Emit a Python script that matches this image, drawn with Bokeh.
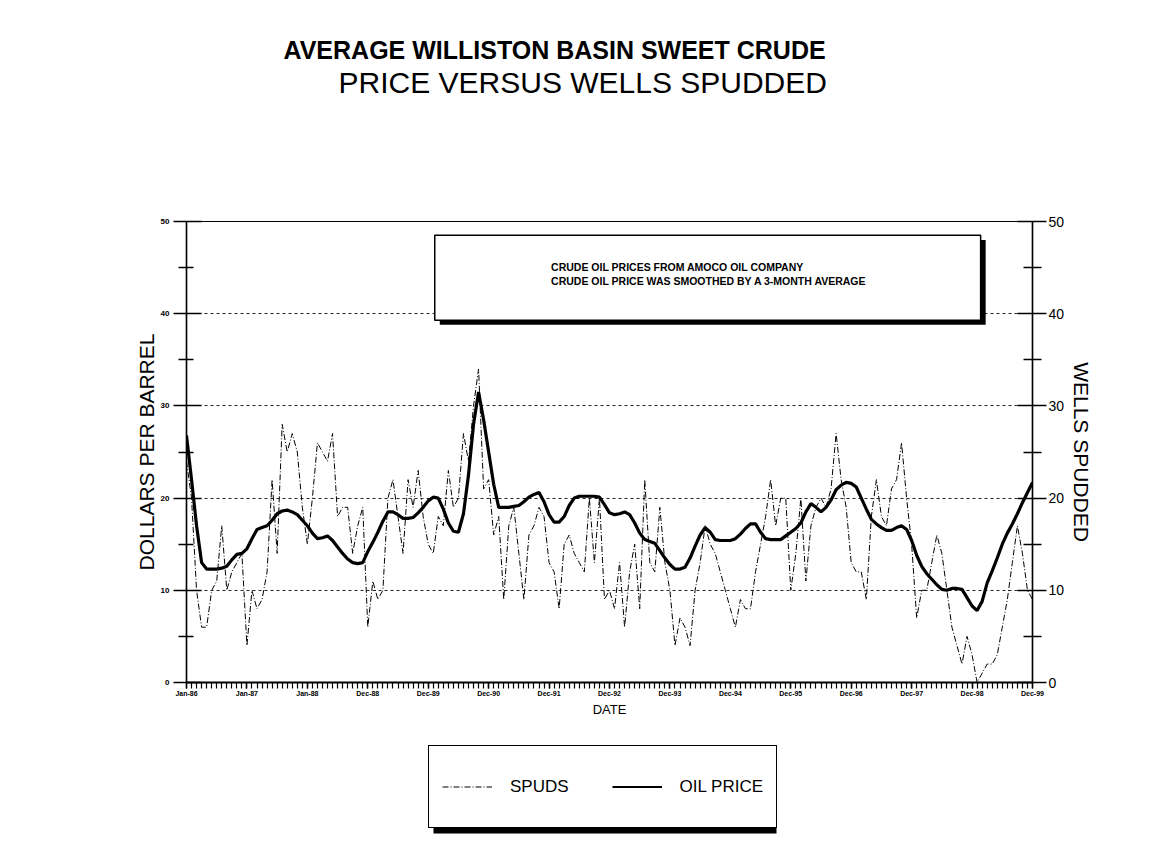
from bokeh.plotting import figure
from bokeh.layouts import column
from bokeh.models import (Range1d, LinearAxis, FixedTicker, BoxAnnotation, Label,
                          Title, Legend, LegendItem)
from bokeh.embed import file_html
from bokeh.resources import INLINE

# ---------------- data ----------------
months = list(range(169))  # Jan-86 ... Dec-99, monthly index
tick_positions = [0, 12, 24, 36, 48, 60, 72, 84, 96, 108, 120, 132, 144, 156, 168]
tick_labels = ["Jan-86", "Jan-87", "Jan-88", "Dec-88", "Dec-89", "Dec-90", "Dec-91",
               "Dec-92", "Dec-93", "Dec-94", "Dec-95", "Dec-96", "Dec-97", "Dec-98", "Dec-99"]

spuds = [24, 20, 10, 6, 6, 10, 11, 17, 10, 12, 13, 14, 4, 10, 8, 9, 12, 22, 14, 28,
         25, 27, 25, 19, 15, 20, 26, 25, 24, 27, 18, 19, 19, 14, 17, 19, 6, 11, 9, 10,
         20, 22, 18, 14, 22, 19, 23, 18, 15, 14, 18, 17, 23, 19, 20, 27, 24, 30, 34, 21,
         22, 16, 18, 9, 17, 19, 14, 9, 16, 17, 19, 18, 13, 12, 8, 15, 16, 14, 13, 12,
         20, 13, 20, 9, 10, 8, 13, 6, 12, 15, 8, 22, 13, 12, 19, 13, 10, 4, 7, 6,
         4, 10, 13, 17, 15, 14, 12, 10, 8, 6, 9, 8, 8, 12, 15, 18, 22, 17, 20, 20,
         10, 14, 20, 11, 17, 19, 20, 19, 21, 27, 22, 19, 13, 12, 12, 9, 18, 22, 18, 17,
         21, 22, 26, 20, 15, 7, 10, 10, 13, 16, 14, 10, 6, 4, 2, 5, 3, 0, 1, 2,
         2, 3, 6, 9, 13, 17, 14, 10, 9]

oil_price = [26.8, 22.0, 17.0, 13.0, 12.3, 12.3, 12.3, 12.4, 12.6, 13.3, 13.9, 14.0, 14.5,
             15.6, 16.6, 16.8, 17.0, 17.6, 18.3, 18.6, 18.7, 18.5, 18.2, 17.6, 17.0, 16.2,
             15.6, 15.7, 15.9, 15.4, 14.7, 14.0, 13.4, 13.0, 12.9, 13.0, 14.2, 15.2, 16.3,
             17.5, 18.5, 18.5, 18.2, 17.8, 17.8, 17.9, 18.4, 19.0, 19.7, 20.1, 20.0, 18.8,
             17.3, 16.4, 16.3, 18.3, 22.5, 28.0, 31.5, 28.5, 25.0, 21.5, 19.0, 19.0, 19.0,
             19.1, 19.2, 19.6, 20.1, 20.4, 20.6, 19.6, 18.2, 17.4, 17.4, 18.0, 19.2, 20.0,
             20.2, 20.2, 20.2, 20.2, 20.1, 19.3, 18.4, 18.2, 18.3, 18.5, 18.2, 17.3, 16.2,
             15.5, 15.3, 15.1, 14.3, 13.5, 12.8, 12.3, 12.3, 12.5, 13.5, 14.8, 16.0, 16.8,
             16.3, 15.5, 15.4, 15.4, 15.4, 15.6, 16.1, 16.7, 17.2, 17.2, 16.3, 15.6, 15.5,
             15.5, 15.5, 15.9, 16.3, 16.7, 17.3, 18.5, 19.4, 19.0, 18.5, 19.0, 19.8, 20.9,
             21.4, 21.7, 21.6, 21.2, 20.0, 18.8, 17.7, 17.2, 16.8, 16.5, 16.5, 16.8, 17.0,
             16.6, 15.4, 13.8, 12.6, 11.8, 11.2, 10.6, 10.1, 10.0, 10.2, 10.2, 10.1, 9.2,
             8.3, 7.8, 8.8, 10.8, 12.1, 13.5, 15.0, 16.2, 17.2, 18.3, 19.5, 20.6, 21.7]

y_ticks = [0, 10, 20, 30, 40, 50]
y_minor = [5, 15, 25, 35, 45]
grid_ticks = [10, 20, 30, 40]

FONT = "Liberation Sans"
INK = "black"
W = 1139
SPUDS_DASH = "6 2 1 2"

p = figure(width=W, height=742, x_range=Range1d(0, 168), y_range=Range1d(0, 50),
           output_backend="svg", toolbar_location=None,
           min_border_left=186, min_border_right=107, min_border_top=221,
           min_border_bottom=60)
p.title.visible = False
p.outline_line_color = INK
p.outline_line_width = 1.2
p.outline_line_alpha = 1
p.background_fill_color = "white"
p.border_fill_color = "white"

# grid
p.xgrid.visible = False
p.ygrid.ticker = FixedTicker(ticks=grid_ticks)
p.ygrid.grid_line_color = INK
p.ygrid.grid_line_alpha = 0.85
p.ygrid.grid_line_dash = "3 3"
p.ygrid.grid_line_width = 1


def style_axis(ax):
    ax.axis_line_color = INK
    ax.major_tick_line_color = INK
    ax.minor_tick_line_color = INK
    ax.major_label_text_color = INK
    ax.axis_label_text_color = INK
    ax.axis_label_text_font = FONT
    ax.axis_label_text_font_style = "normal"
    ax.major_label_text_font = FONT


# left axis
ly = p.yaxis[0]
style_axis(ly)
ly.ticker = FixedTicker(ticks=y_ticks, minor_ticks=y_minor)
ly.axis_label = "DOLLARS PER BARREL"
ly.axis_label_text_font_size = "21px"
ly.axis_label_standoff = 0
ly.major_label_text_font_size = "8px"
ly.major_label_text_font_style = "bold"
ly.major_label_standoff = 4
ly.major_tick_in = 15
ly.major_tick_out = 13
ly.minor_tick_in = 7
ly.minor_tick_out = 8
ly.axis_line_width = 1.5
ly.major_tick_line_width = 1.5
ly.minor_tick_line_width = 1.5

# right axis
ry = LinearAxis(ticker=FixedTicker(ticks=y_ticks, minor_ticks=y_minor))
style_axis(ry)
ry.axis_label = "WELLS SPUDDED"
ry.axis_label_text_font_size = "21px"
ry.axis_label_standoff = 3
ry.major_label_text_font_size = "14px"
ry.major_label_standoff = 2
ry.major_tick_in = 15
ry.major_tick_out = 14
ry.minor_tick_in = 9
ry.minor_tick_out = 9
ry.axis_line_width = 1.5
ry.major_tick_line_width = 1.5
ry.minor_tick_line_width = 1.5
p.add_layout(ry, "right")

# bottom axis
bx = p.xaxis[0]
style_axis(bx)
bx.ticker = FixedTicker(ticks=tick_positions, minor_ticks=months)
bx.major_label_overrides = {pos: lab for pos, lab in zip(tick_positions, tick_labels)}
bx.axis_label = "DATE"
bx.axis_label_text_font_size = "13px"
bx.axis_label_standoff = 2
bx.major_label_text_font_size = "7px"
bx.major_label_text_font_style = "bold"
bx.major_label_standoff = 1
bx.major_tick_in = 0
bx.major_tick_out = 6
bx.minor_tick_in = 0
bx.minor_tick_out = 6
bx.axis_line_width = 2
bx.major_tick_line_width = 1.5
bx.minor_tick_line_width = 1.2

# series
r_spuds = p.line(months, spuds, line_color=INK, line_width=1, line_dash=SPUDS_DASH)
r_oil = p.line(months, oil_price, line_color=INK, line_width=3.2)

# note box with shadow
p.add_layout(BoxAnnotation(left=50.3, right=158.7, bottom=38.8, top=48.0,
                           fill_color=INK, fill_alpha=1, line_alpha=0))
p.add_layout(BoxAnnotation(left=49.3, right=157.7, bottom=39.3, top=48.5,
                           fill_color="white", fill_alpha=1, line_color=INK,
                           line_alpha=1, line_width=1.5))
p.add_layout(Label(x=72.4, y=45.1, text="CRUDE OIL PRICES FROM AMOCO OIL COMPANY",
                   text_font=FONT, text_font_size="10.5px", text_font_style="bold",
                   text_color=INK, text_baseline="middle"))
p.add_layout(Label(x=72.4, y=43.5, text="CRUDE OIL PRICE WAS SMOOTHED BY A 3-MONTH AVERAGE",
                   text_font=FONT, text_font_size="10.5px", text_font_style="bold",
                   text_color=INK, text_baseline="middle"))

# titles: spacer (next to frame), subtitle, main title
spacer = Title(text=" ", text_font_size="1px", standoff=120)
sub = Title(text="PRICE VERSUS WELLS SPUDDED", align="left", offset=152, text_font=FONT,
            text_font_size="30px", text_font_style="normal", text_color=INK, standoff=0)
main = Title(text="AVERAGE WILLISTON BASIN SWEET CRUDE", align="left", offset=97,
             text_font=FONT, text_font_size="25px", text_font_style="bold",
             text_color=INK, standoff=0)
p.add_layout(spacer, "above")
p.add_layout(sub, "above")
p.add_layout(main, "above")

# ---------------- legend strip (frame aligned with the chart frame) ----------------
LH = 94
lf = figure(width=W, height=LH, x_range=Range1d(186, 1032), y_range=Range1d(0, LH),
            output_backend="svg", toolbar_location=None, min_border=0,
            min_border_left=186, min_border_right=107)
lf.axis.visible = False
lf.grid.visible = False
lf.outline_line_color = None
lf.title.visible = False
lf.background_fill_color = "white"
lf.border_fill_color = "white"
# the same series, drawn outside this strip's visible range: they only feed the legend
l_spuds = lf.line(months, spuds, line_color=INK, line_width=1, line_dash=SPUDS_DASH)
l_oil = lf.line(months, oil_price, line_color=INK, line_width=2.2)
lf.add_layout(BoxAnnotation(left=433, right=776, bottom=3, top=84,
                            fill_color=INK, fill_alpha=1, line_alpha=0))
legend = Legend(items=[LegendItem(label="SPUDS", renderers=[l_spuds]),
                       LegendItem(label="OIL PRICE", renderers=[l_oil])],
                orientation="horizontal", location=(242, 8),
                label_text_font=FONT, label_text_font_size="17px", label_text_color=INK,
                glyph_width=50, glyph_height=55, label_height=55,
                padding=13, spacing=43, label_standoff=18,
                border_line_color=INK, border_line_alpha=1, border_line_width=1.5,
                background_fill_color="white", background_fill_alpha=1, margin=0)
lf.add_layout(legend, "center")

layout = column(p, lf, spacing=0)
open("out.html", "w").write(file_html(layout, INLINE))
